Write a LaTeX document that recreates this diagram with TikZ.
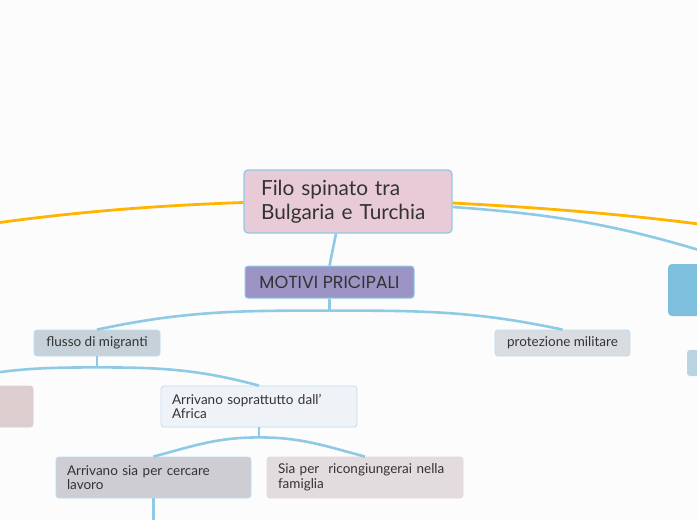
\documentclass[tikz,border=0pt]{standalone}
\usepackage{fontspec}
\setmainfont{Lato}
\newfontfamily\capsfont{Poppins}
\usetikzlibrary{positioning,calc}
\definecolor{bgcol}{RGB}{252,252,253}
\definecolor{rootcol}{RGB}{232,203,214}
\definecolor{motivicol}{RGB}{156,148,197}
\definecolor{flussocol}{RGB}{198,209,217}
\definecolor{protcol}{RGB}{217,221,225}
\definecolor{africacol}{RGB}{239,243,247}
\definecolor{lavorocol}{RGB}{205,205,211}
\definecolor{famcol}{RGB}{226,220,222}
\definecolor{leftcol}{RGB}{220,205,206}
\definecolor{bluecol}{RGB}{127,191,222}
\definecolor{smallcol}{RGB}{185,211,224}
\definecolor{edgecol}{RGB}{142,202,230}
\definecolor{famedge}{RGB}{232,214,218}
\definecolor{orangecol}{RGB}{255,180,0}
\definecolor{txtcol}{RGB}{51,51,51}

\begin{document}
\begin{tikzpicture}[
    x=1pt, y=-1pt,
    node distance=32pt,
    topic/.style={
        rectangle, rounded corners=4pt, draw=edgecol, line width=1.2pt,
        minimum height=63pt, text width=174pt, inner xsep=17pt, align=left,
        font=\fontsize{20.8}{24}\selectfont, text=txtcol
    },
    head/.style={
        rectangle, rounded corners=3pt, draw=edgecol, line width=1pt,
        minimum width=169pt, minimum height=32pt, align=center,
        font=\capsfont\fontsize{17.5}{20}\selectfont, text=txtcol
    },
    leaf/.style={
        rectangle, rounded corners=3pt, draw=edgecol!60, line width=0.8pt,
        minimum height=26pt, align=center,
        font=\fontsize{13.5}{15}\selectfont, text=txtcol
    },
    note/.style={
        rectangle, rounded corners=3pt, draw=edgecol!60, line width=0.8pt,
        minimum height=41pt, text width=174pt, inner xsep=11pt, align=left,
        font=\fontsize{13.5}{14.5}\selectfont, text=txtcol
    },
    branch/.style={edgecol, line width=2.6pt},
    mainline/.style={orangecol, line width=2.8pt}
]
\fill[bgcol] (0,0) rectangle (697,520);
\clip (0,0) rectangle (697,520);

\node[topic, fill=rootcol] (root) at (348,201.5) {Filo spinato tra\\Bulgaria e Turchia};
\node[head, fill=motivicol, below=of root, xshift=-18.5pt] (motivi) {MOTIVI PRICIPALI};
\node[leaf, fill=flussocol, minimum width=126pt] (flusso) at (97,343) {flusso di migranti};
\node[leaf, fill=protcol, minimum width=135pt] (protezione) at (562.5,343) {protezione militare};
\node[note, fill=leftcol, draw=leftcol] (hidden) at (-65,406.5) {};
\node[note, fill=africacol] (africa) at (259,406.5) {Arrivano soprattutto dall'\\Africa};
\node[note, fill=lavorocol, text width=173pt] (lavoro) at (153.5,477.5) {Arrivano sia per cercare\\lavoro};
\node[note, fill=famcol, draw=famedge] (famiglia) at (365,477.5) {Sia per\ \ ricongiungerai nella\\famiglia};
\node[rectangle, rounded corners=4pt, fill=bluecol, minimum width=150pt, minimum height=52pt] (blue) at (743,290) {};
\node[rectangle, rounded corners=3pt, fill=smallcol, minimum width=120pt, minimum height=26pt] (small) at (747,363) {};

\coordinate (lfar) at (-240,262);
\coordinate (rfar) at (940,262);
\coordinate (mhub) at ($(motivi.south)+(0,12)$);
\coordinate (fhub) at ($(flusso.south)+(0,11)$);
\coordinate (ahub) at ($(africa.south)+(0,10)$);
\coordinate (down) at ($(lavoro.south)+(0,30)$);

\draw[mainline] ([yshift=-1pt]root.west) to[out=182, in=10] (lfar);
\draw[mainline] ([yshift=-1.5pt]root.east) to[out=-3, in=170] (rfar);
\draw[branch] ([yshift=-5.5pt]root.east) to[out=-4, in=162] (blue.north);

\draw[branch] ([xshift=-12pt]root.south) -- (motivi.north);
\draw[branch] (motivi.south) -- (mhub);
\draw[branch] (mhub) to[out=180, in=12] (flusso.north);
\draw[branch] (mhub) to[out=0, in=168] (protezione.north);
\draw[branch] (flusso.south) -- (fhub);
\draw[branch] (fhub) to[out=180, in=15] (hidden.north);
\draw[branch] (fhub) to[out=0, in=165] (africa.north);
\draw[branch] (africa.south) -- (ahub);
\draw[branch] (ahub) to[out=180, in=15] (lavoro.north);
\draw[branch] (ahub) to[out=0, in=165] (famiglia.north);
\draw[branch] (lavoro.south) -- (down);
\end{tikzpicture}
\end{document}
